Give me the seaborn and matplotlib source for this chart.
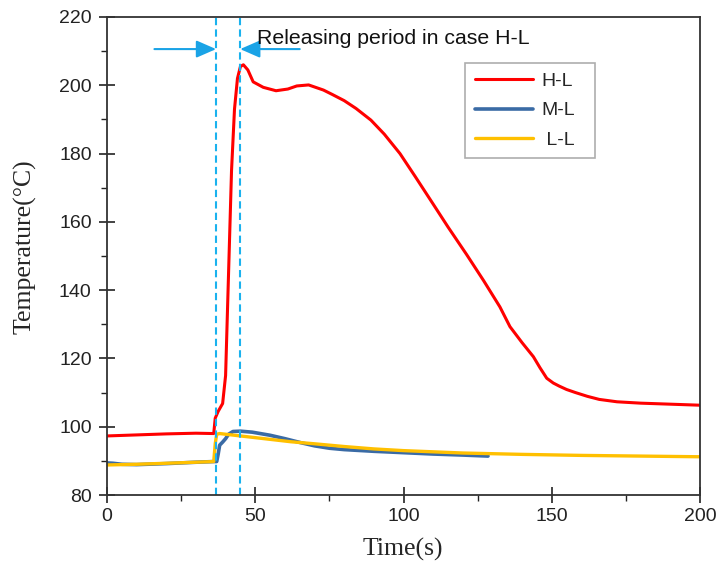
import numpy as np
import pandas as pd
import matplotlib
matplotlib.use("Agg")
import matplotlib.pyplot as plt
import seaborn as sns
from matplotlib.ticker import MultipleLocator

# ---- data ----
hl_t = [0, 10, 20, 30, 36, 36.5, 37.5, 39, 40, 41, 42, 43, 44, 45, 46, 47.5, 49.3,
        52.7, 57, 61, 64, 68, 73, 76, 80, 84, 89, 93.5, 98.8, 104, 110, 115, 121.3,
        127, 132.5, 135.9, 140, 143.8, 146, 148.3, 150.5, 152.5, 155, 158, 162, 166,
        172, 180, 190, 200]
hl_T = [97.3, 97.6, 97.9, 98.1, 98.0, 102.5, 104.5, 106.8, 115, 145, 175, 193, 202,
        205.5, 206, 204.5, 201, 199.4, 198.4, 198.9, 199.8, 200.1, 198.6, 197.3, 195.5,
        193.2, 189.8, 185.7, 180, 173.2, 165.2, 158.5, 150.4, 142.8, 135.1, 129.3,
        124.6, 120.5, 117.3, 114.2, 112.8, 111.9, 110.9, 110.0, 108.9, 108.0, 107.3,
        106.9, 106.6, 106.3]

ml_t = [0, 2, 5, 10, 20, 30, 36, 37, 37.5, 38, 39, 40, 41, 42.5, 45, 49, 55, 60, 65,
        70, 75, 80, 90, 100, 110, 120, 128.5]
ml_T = [89.4, 89.3, 89.0, 88.9, 89.2, 89.6, 89.8, 89.8, 92, 94.6, 95.5, 96.5, 97.8,
        98.6, 98.7, 98.4, 97.5, 96.5, 95.4, 94.4, 93.7, 93.3, 92.8, 92.4, 92.0, 91.7,
        91.4]

ll_t = [0, 10, 20, 30, 36, 36.5, 37, 38, 42, 48, 55, 62, 70, 80, 90, 100, 120, 140,
        160, 180, 200]
ll_T = [88.8, 89.0, 89.3, 89.6, 89.8, 95, 97.8, 98.0, 97.6, 97.0, 96.3, 95.6, 95.0,
        94.2, 93.5, 93.0, 92.3, 91.9, 91.6, 91.4, 91.2]

case_names = ["H-L", "M-L", " L-L"]
case_colors = ["#FF0000", "#3A6BA5", "#FFC000"]
case_widths = [2.2, 2.6, 2.4]

release_start = 36.8
release_end = 44.9
annotation_text = "Releasing period in case H-L"

# ---- build frame ----
df = pd.concat([
    pd.DataFrame({"t": hl_t, "T": hl_T, "case": case_names[0]}),
    pd.DataFrame({"t": ml_t, "T": ml_T, "case": case_names[1]}),
    pd.DataFrame({"t": ll_t, "T": ll_T, "case": case_names[2]}),
], ignore_index=True)

sns.set_style("ticks")
plt.rcParams['font.family'] = ['Liberation Sans', 'DejaVu Sans']

fig = plt.figure(figsize=(7.18, 5.72), dpi=100)
ax = fig.add_axes([0.149, 0.1346, 0.826, 0.8357])

sns.lineplot(data=df, x="t", y="T", hue="case", hue_order=case_names,
             palette=dict(zip(case_names, case_colors)), estimator=None, sort=False,
             linewidth=2.2, ax=ax)
for ln, w in zip(ax.lines[:3], case_widths):
    ln.set_linewidth(w)

ax.set_xlim(0, 200)
ax.set_ylim(80, 220)
ax.xaxis.set_major_locator(MultipleLocator(50))
ax.xaxis.set_minor_locator(MultipleLocator(25))
ax.yaxis.set_major_locator(MultipleLocator(20))
ax.yaxis.set_minor_locator(MultipleLocator(10))

for sp in ax.spines.values():
    sp.set_visible(True)
    sp.set_color("#333333")
    sp.set_linewidth(1.3)

ax.tick_params(which="major", direction="inout", length=12, width=1.2,
               top=False, right=False, labelsize=14, colors="#222222")
ax.tick_params(axis="y", which="major", pad=5)
ax.tick_params(axis="x", which="major", pad=3)
ax.tick_params(which="minor", direction="out", length=4, width=1.0,
               top=False, right=False, colors="#222222")

ax.set_xlabel("Time(s)", family=["Liberation Serif"], fontsize=18.5)
ax.set_ylabel("Temperature(\u00b0C)", family=["Liberation Serif"], fontsize=18.5)
ax.xaxis.set_label_coords(0.499, -0.090)
ax.yaxis.set_label_coords(-0.118, 0.52)

# release period markers
for xv in (release_start, release_end):
    ax.axvline(xv, color="#1AB2EE", lw=1.5, ls=(0, (3.5, 2)))

arrow_y = 210.6
ap = dict(arrowstyle="-|>,head_length=0.8,head_width=0.35", color="#1AA3E6",
          lw=1.5, mutation_scale=15, shrinkA=0, shrinkB=0)
ax.annotate("", xy=(release_start, arrow_y), xytext=(16, arrow_y), arrowprops=ap)
ax.annotate("", xy=(release_end, arrow_y), xytext=(65, arrow_y), arrowprops=ap)
ax.text(50.6, 213.8, annotation_text, fontsize=15.3, va="center", ha="left",
        color="#111111")

handles, labels = ax.get_legend_handles_labels()
leg = ax.legend(handles, labels, loc="upper left",
                bbox_to_anchor=(0.604, 0.705, 0.219, 0.199), mode="expand",
                frameon=True, fancybox=False, edgecolor="#999999", fontsize=14,
                handlelength=3.0, labelspacing=0.6, borderpad=0.5,
                handletextpad=0.4, borderaxespad=0)
leg.get_frame().set_linewidth(1.2)
for lh, w in zip(leg.get_lines(), case_widths):
    lh.set_linewidth(w)

fig.savefig("out.png", dpi=100)
